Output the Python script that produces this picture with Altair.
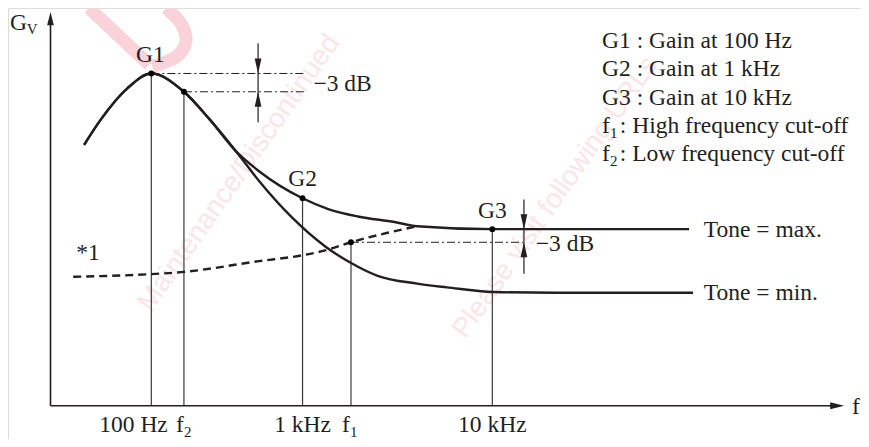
import altair as alt
import pandas as pd

# ---- curves (diagram coordinates) ----
shared_x = [83, 100, 127, 151, 184, 210, 237]
shared_y = [146, 120, 88, 73, 91.7, 120, 153]
min_x = [260, 293, 327, 360, 380, 420, 450, 497, 560, 699]
min_y = [183, 220, 250, 270.7, 280, 288, 291.8, 296.6, 297.3, 297.3]
max_x = [260, 304, 330, 360, 397, 420, 496, 560, 695]
max_y = [173, 200.7, 211.7, 219.3, 225, 229.3, 232.3, 232.3, 232.3]
dash_x = [72, 151, 184, 260, 304, 327, 353, 390, 420]
dash_y = [281, 278.3, 276, 265, 259, 254, 245.7, 236, 229.3]

# marked points: G1, f2, G2, f1, G3
pt_name = ["G1", "f2", "G2", "f1", "G3"]
pt_x = [151, 184, 304, 353, 496]
pt_y = [73, 91.7, 200.7, 245.7, 232.3]

AXIS_Y = 413
AXIS_X = 49

# dash-dot reference lines
dd_x1 = [151, 184, 353]
dd_x2 = [306, 306, 527]
dd_y = [73, 91.7, 245.7]

# -3 dB arrows
arr_x = [259, 528]
arr_top = [42, 202]
arr_bot = [123, 278]
arr_up_tip = [91.7, 245.7]
arr_down_tip = [73, 232.3]

# texts
left_text = ["G", "\u22123 dB", "\u22123 dB", "*1", "Tone = max.", "Tone = min.",
             "G1 : Gain at 100 Hz", "G2 : Gain at 1 kHz", "G3 : Gain at 10 kHz",
             "f", ": High frequency cut-off", "f", ": Low frequency cut-off",
             "f", "f", "f"]
left_x = [8, 315, 540, 75, 710, 710, 607, 607, 607, 607, 625, 607, 625, 176, 344, 860]
left_y = [29, 91, 255, 264, 240, 305, 47, 76, 105, 134, 134, 163, 163, 440, 440, 421]

center_text = ["G1", "G2", "G3", "100 Hz", "1 kHz", "10 kHz"]
center_x = [150, 304, 496, 133, 304, 496]
center_y = [61, 188, 221, 440, 440, 440]

sub_text = ["V", "1", "2", "2", "1"]
sub_x = [25, 615, 615, 184, 352]
sub_y = [33, 139, 168, 444.5, 444.5]

# faint watermark
wm_text = ["Maintenance/Discontinued", "Please visit following URLs"]
wm_x = [240, 560]
wm_y = [175, 200]
wm_stroke_x = [88, 149]
wm_stroke_y = [6, 64]
wm_arc_x = [166, 181, 186, 176, 152]
wm_arc_y = [6, 22, 40, 56, 66]

FONT = "Liberation Serif"
XS = alt.Scale(domain=[6, 869], nice=False, zero=False)
YS = alt.Scale(domain=[6, 447], reverse=True, nice=False, zero=False)


def X(f="x"):
    return alt.X(f, type="quantitative", scale=XS, axis=None)


def Y(f="y"):
    return alt.Y(f, type="quantitative", scale=YS, axis=None)


rows = []
for i, (x, y) in enumerate(zip(shared_x + min_x, shared_y + min_y)):
    rows.append({"x": x, "y": y, "s": "min", "o": i})
for i, (x, y) in enumerate(zip(shared_x + max_x, shared_y + max_y)):
    rows.append({"x": x, "y": y, "s": "max", "o": i})
curves = pd.DataFrame(rows)
dashed = pd.DataFrame({"x": dash_x, "y": dash_y, "o": range(len(dash_x))})
pts = pd.DataFrame({"n": pt_name, "x": pt_x, "y": pt_y})

vlines = pts.assign(y0=AXIS_Y)
h_axis = pd.DataFrame({"x": [AXIS_X], "x2": [840], "y": [AXIS_Y]})
v_axis = pd.DataFrame({"x": [AXIS_X], "y": [20], "y2": [AXIS_Y]})
dd = pd.DataFrame({"x": dd_x1, "x2": dd_x2, "y": dd_y})
arr = pd.DataFrame({"x": arr_x, "y": arr_top, "y2": arr_bot})
down_tips = pd.DataFrame({"x": arr_x, "y": arr_down_tip})
up_tips = pd.DataFrame({"x": arr_x, "y": arr_up_tip})
yaxis_tip = pd.DataFrame({"x": [AXIS_X], "y": [10]})
right_tip = pd.DataFrame({"x": [852], "y": [AXIS_Y]})

lt = pd.DataFrame({"t": left_text, "x": left_x, "y": left_y})
ct = pd.DataFrame({"t": center_text, "x": center_x, "y": center_y})
st = pd.DataFrame({"t": sub_text, "x": sub_x, "y": sub_y})
wm = pd.DataFrame({"t": wm_text, "x": wm_x, "y": wm_y})
wm_shape = pd.DataFrame({
    "x": wm_stroke_x + wm_arc_x,
    "y": wm_stroke_y + wm_arc_y,
    "s": ["a"] * len(wm_stroke_x) + ["b"] * len(wm_arc_x),
    "o": list(range(len(wm_stroke_x))) + list(range(len(wm_arc_x))),
})

INK = "#231f20"
PINK = "#f9d3d9"

wm_layer = alt.Chart(wm).mark_text(
    align="center", baseline="middle", font="Liberation Sans", fontSize=28,
    color="#f7c6cc", opacity=0.45, angle=305
).encode(x=X(), y=Y(), text="t:N")

wm_shape_layer = alt.Chart(wm_shape).mark_line(
    interpolate="cardinal", strokeWidth=13, color=PINK, strokeCap="butt"
).encode(x=X(), y=Y(), detail="s:N", order="o:Q")

curve_layer = alt.Chart(curves).mark_line(
    interpolate="monotone", strokeWidth=2.4, color=INK
).encode(x=X(), y=Y(), detail="s:N", order="o:Q")

dash_layer = alt.Chart(dashed).mark_line(
    interpolate="monotone", strokeWidth=2.4, color=INK, strokeDash=[8, 5]
).encode(x=X(), y=Y(), order="o:Q")

vline_layer = alt.Chart(vlines).mark_rule(strokeWidth=1.2, color="#3a3a3a").encode(
    x=X(), y=Y(), y2="y0:Q"
)

axis_h = alt.Chart(h_axis).mark_rule(strokeWidth=1.6, color=INK).encode(
    x=X(), x2="x2:Q", y=Y()
)
axis_v = alt.Chart(v_axis).mark_rule(strokeWidth=1.6, color=INK).encode(
    x=X(), y=Y(), y2="y2:Q"
)

dd_layer = alt.Chart(dd).mark_rule(strokeWidth=1, color=INK, strokeDash=[8, 3, 2, 3]).encode(
    x=X(), x2="x2:Q", y=Y()
)
arr_layer = alt.Chart(arr).mark_rule(strokeWidth=1.2, color=INK).encode(
    x=X(), y=Y(), y2="y2:Q"
)

DOWN = "M-0.45,-2L0.45,-2L0,0Z"
UP = "M-0.45,2L0.45,2L0,0Z"
RIGHT = "M-2,-0.5L-2,0.5L0,0Z"
UPAX = "M-0.5,2L0.5,2L0,0Z"

down_layer = alt.Chart(down_tips).mark_point(
    shape=DOWN, size=225, filled=True, color=INK, opacity=1, strokeWidth=0
).encode(x=X(), y=Y())
up_layer = alt.Chart(up_tips).mark_point(
    shape=UP, size=225, filled=True, color=INK, opacity=1, strokeWidth=0
).encode(x=X(), y=Y())
yaxis_tip_layer = alt.Chart(yaxis_tip).mark_point(
    shape=UPAX, size=180, filled=True, color=INK, opacity=1, strokeWidth=0
).encode(x=X(), y=Y())
right_layer = alt.Chart(right_tip).mark_point(
    shape=RIGHT, size=196, filled=True, color=INK, opacity=1, strokeWidth=0
).encode(x=X(), y=Y())

dot_layer = alt.Chart(pts).mark_circle(size=34, color="black", opacity=1).encode(x=X(), y=Y())

text_left = alt.Chart(lt).mark_text(
    align="left", baseline="alphabetic", font=FONT, fontSize=23.5, color=INK
).encode(x=X(), y=Y(), text="t:N")
text_center = alt.Chart(ct).mark_text(
    align="center", baseline="alphabetic", font=FONT, fontSize=23.5, color=INK
).encode(x=X(), y=Y(), text="t:N")
text_sub = alt.Chart(st).mark_text(
    align="left", baseline="alphabetic", font=FONT, fontSize=15, color=INK
).encode(x=X(), y=Y(), text="t:N")

chart = alt.layer(
    wm_shape_layer, wm_layer,
    vline_layer, axis_h, axis_v, dd_layer, arr_layer,
    curve_layer, dash_layer, dot_layer,
    down_layer, up_layer, yaxis_tip_layer, right_layer,
    text_left, text_center, text_sub,
).properties(
    width=853, height=431, padding=0, autosize=alt.AutoSizeParams(type="none")
).configure_view(stroke=None).configure(background="white")

chart.save("out.html", embed_options={"renderer": "svg", "actions": False})
